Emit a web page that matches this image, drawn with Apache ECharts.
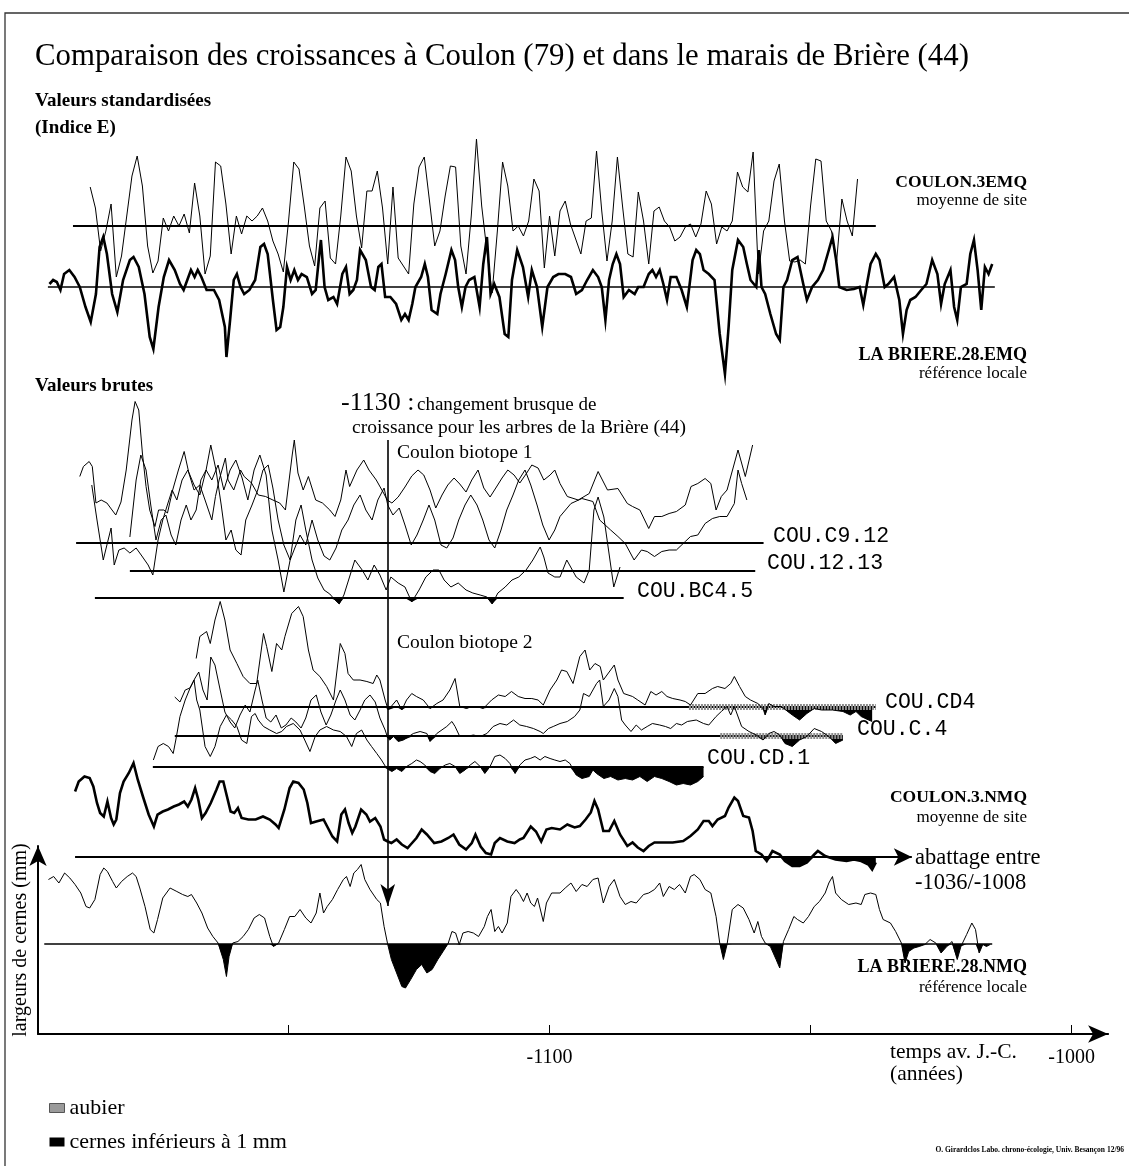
<!DOCTYPE html>
<html><head><meta charset="utf-8">
<script src="https://cdn.jsdelivr.net/npm/echarts@6/dist/echarts.min.js"></script>
<style>html,body{margin:0;padding:0;background:#fff}#c{width:1129px;height:1166px}</style>
</head><body><div id="c"></div>
<script>
// ---------------- DATA ----------------
const yearMin = -1198, yearMax = -993;
const axisTickYears = [-1150, -1100, -1050, -1000];
const axisLabelYears = [-1100, -1000];
const changeYear = -1131;

// Standardised indices (E), [year, index]
const couEMQ = [[-1188,139],[-1187,118],[-1186,75],[-1185,95],[-1184,122],[-1183,49],[-1182,70],[-1181,110],[-1180,150],[-1179,170],[-1178,140],[-1177,80],[-1176,53],[-1175,65],[-1174,108],[-1173,95],[-1172,110],[-1171,100],[-1170,112],[-1169,93],[-1168,143],[-1167,110],[-1166,52],[-1165,70],[-1164,164],[-1163,160],[-1162,122],[-1161,72],[-1160,110],[-1159,92],[-1158,110],[-1157,105],[-1156,110],[-1155,118],[-1154,105],[-1153,85],[-1152,72],[-1151,54],[-1150,105],[-1149,164],[-1148,157],[-1147,120],[-1146,80],[-1145,60],[-1144,118],[-1143,125],[-1142,68],[-1141,62],[-1140,110],[-1139,169],[-1138,155],[-1137,110],[-1136,78],[-1135,135],[-1134,135],[-1133,155],[-1132,118],[-1131,62],[-1130,139],[-1129,68],[-1128,60],[-1127,52],[-1126,122],[-1125,159],[-1124,169],[-1123,125],[-1122,80],[-1121,95],[-1120,130],[-1119,160],[-1118,159],[-1117,80],[-1116,52],[-1115,110],[-1114,187],[-1113,120],[-1112,75],[-1111,33],[-1110,95],[-1109,164],[-1108,140],[-1107,95],[-1106,100],[-1105,90],[-1104,105],[-1103,147],[-1102,135],[-1101,58],[-1100,110],[-1099,70],[-1098,115],[-1097,125],[-1096,102],[-1094,72],[-1093,105],[-1092,108],[-1091,175],[-1090,115],[-1089,65],[-1088,105],[-1087,169],[-1086,119],[-1085,72],[-1084,69],[-1083,134],[-1082,105],[-1081,62],[-1080,115],[-1079,119],[-1078,105],[-1077,99],[-1076,85],[-1075,89],[-1074,99],[-1073,102],[-1072,89],[-1071,102],[-1070,135],[-1069,122],[-1068,82],[-1067,99],[-1066,95],[-1065,105],[-1064,154],[-1063,139],[-1062,134],[-1061,174],[-1060,52],[-1059,95],[-1058,105],[-1057,145],[-1056,162],[-1055,105],[-1054,65],[-1053,64],[-1052,66],[-1051,62],[-1050,120],[-1049,167],[-1048,165],[-1047,105],[-1046,95],[-1045,65],[-1044,127],[-1043,105],[-1042,90],[-1041,147]];

const lbEMQ = [[-1195.8,103],[-1195.1,107],[-1194.4,105],[-1193.7,97],[-1193,113],[-1192,117],[-1191,110],[-1190,100],[-1188.9,80],[-1187.9,65],[-1186.9,93],[-1186.2,140],[-1185.5,150],[-1184.8,133],[-1183.8,93],[-1182.8,75],[-1181.7,107],[-1180.4,127],[-1179.7,130],[-1178.7,120],[-1177.6,93],[-1176.6,50],[-1175.9,38],[-1174.9,80],[-1173.9,110],[-1172.9,127],[-1171.8,117],[-1170.8,103],[-1170.1,97],[-1168.7,117],[-1168,110],[-1167.4,117],[-1166.7,110],[-1165.7,97],[-1164.3,97],[-1163.3,87],[-1162.2,60],[-1161.9,30],[-1161.2,67],[-1160.5,107],[-1159.9,113],[-1159.2,100],[-1158.5,93],[-1157.5,97],[-1156.4,107],[-1155.4,140],[-1154.7,143],[-1154,133],[-1153,87],[-1152.3,57],[-1151.6,60],[-1151,80],[-1150.3,120],[-1149.6,107],[-1148.9,117],[-1148.2,107],[-1147.5,113],[-1146.5,110],[-1145.5,93],[-1144.8,97],[-1144.1,133],[-1143.8,147],[-1143.1,100],[-1142.4,87],[-1141.4,90],[-1140.7,83],[-1139.7,113],[-1139,120],[-1138.3,93],[-1137.6,97],[-1136.9,107],[-1136.3,137],[-1135.2,127],[-1134.2,100],[-1133.5,97],[-1132.8,120],[-1132.2,123],[-1131.5,90],[-1130.5,90],[-1129.4,83],[-1128.4,67],[-1127.7,73],[-1127,67],[-1126.3,83],[-1125.7,100],[-1124.6,110],[-1123.9,123],[-1123.3,110],[-1122.6,77],[-1121.5,73],[-1120.9,93],[-1119.9,113],[-1118.8,137],[-1118.1,127],[-1117.5,100],[-1116.8,80],[-1116.1,100],[-1115.4,107],[-1114.4,110],[-1113.4,80],[-1112.7,123],[-1112,150],[-1111.3,93],[-1110.6,103],[-1109.6,90],[-1108.6,53],[-1107.9,50],[-1107.2,107],[-1106.2,137],[-1105.1,120],[-1104.1,90],[-1103.4,117],[-1102.4,100],[-1101.4,60],[-1100.4,100],[-1099.3,110],[-1098.3,113],[-1097,113],[-1095.9,110],[-1094.9,93],[-1093.8,97],[-1092.8,107],[-1091.7,117],[-1090.7,110],[-1090,100],[-1089.3,67],[-1088.6,107],[-1087.9,123],[-1087.2,133],[-1086.5,123],[-1085.8,90],[-1084.8,97],[-1083.7,93],[-1083,100],[-1082,100],[-1081,113],[-1080.3,117],[-1079.6,110],[-1078.9,117],[-1078.2,103],[-1077.5,87],[-1076.8,110],[-1075.7,110],[-1074.7,97],[-1073.7,80],[-1072.6,127],[-1071.9,137],[-1071.2,133],[-1070.5,117],[-1069.5,113],[-1068.4,107],[-1067.4,53],[-1066.4,13],[-1065.7,60],[-1065,117],[-1063.9,147],[-1062.9,140],[-1062.2,123],[-1061.5,107],[-1060.4,100],[-1059.9,137],[-1059.4,100],[-1058.7,93],[-1057.7,73],[-1056.6,53],[-1055.9,47],[-1055.2,100],[-1054.5,107],[-1053.5,127],[-1052.5,130],[-1051.4,103],[-1050.7,87],[-1049.7,100],[-1048.6,107],[-1047.6,117],[-1046.5,137],[-1045.8,150],[-1045.1,127],[-1044.5,100],[-1043.1,97],[-1041.7,98],[-1040.6,100],[-1039.9,82],[-1039.2,103],[-1038.5,123],[-1037.5,133],[-1036.8,127],[-1035.8,100],[-1035.1,103],[-1034,110],[-1033,87],[-1032.3,53],[-1031.6,77],[-1030.9,87],[-1029.9,90],[-1028.8,97],[-1027.8,103],[-1026.7,127],[-1025.7,113],[-1025,83],[-1024.3,103],[-1023.2,117],[-1022.5,80],[-1021.9,67],[-1021.2,100],[-1020.1,103],[-1019.4,133],[-1018.7,147],[-1018,117],[-1017.3,77],[-1016.6,120],[-1015.9,113],[-1015.2,123]];

// Raw ring widths (mm), [year, mm]
const couC912 = [[-1190,2.33],[-1189.3,2.53],[-1188.2,2.63],[-1187.6,2.53],[-1186.9,1.80],[-1185.9,1.86],[-1184.8,1.80],[-1184.1,1.70],[-1183.1,1.56],[-1182.1,1.82],[-1181.1,2.46],[-1180,3.46],[-1179.4,3.83],[-1178.7,3.66],[-1178,2.80],[-1177.3,2.13],[-1176.6,1.66],[-1175.6,1.33],[-1174.9,1.66],[-1173.9,1.66],[-1173.2,1.60],[-1172.2,2.06],[-1171.1,2.46],[-1170,2.83],[-1169.1,2.40],[-1168.1,2.06],[-1167,2.16],[-1166,1.86],[-1164.7,1.46],[-1164,1.93],[-1163.3,2.26],[-1162.1,2.70],[-1161.6,2.26],[-1160.5,2.06],[-1159.2,2.46],[-1158.5,2.33],[-1157.1,2.20],[-1155.8,1.96],[-1154.4,1.93],[-1153,1.86],[-1151.7,1.80],[-1150.6,1.66],[-1149.3,2.76],[-1148.9,3.06],[-1148.2,2.40],[-1147.2,2.06],[-1146.2,2.33],[-1144.8,1.86],[-1143.5,1.80],[-1142.1,1.66],[-1141.1,1.53],[-1140,1.86],[-1139,2.46],[-1138.3,2.13],[-1136.9,2.46],[-1135.6,2.66],[-1134.6,2.46],[-1133.2,2.26],[-1131.8,2.00],[-1131.1,1.86],[-1130.2,1.80],[-1129,1.92],[-1127.7,2.12],[-1126.4,2.34],[-1125.2,2.46],[-1124.1,2.36],[-1122.9,2.06],[-1121.8,1.70],[-1120.6,1.96],[-1119.5,2.16],[-1118.3,2.30],[-1117.2,2.18],[-1116,2.02],[-1114.9,2.26],[-1113.7,2.46],[-1112.6,2.10],[-1111.4,1.92],[-1110.3,2.10],[-1109.1,2.30],[-1108,2.46],[-1106.8,2.36],[-1105.7,2.20],[-1104.5,2.38],[-1103.4,2.56],[-1102.2,2.50],[-1101.1,2.26],[-1099.9,2.36],[-1099,2.46],[-1098,2.19],[-1096.6,1.93],[-1094.5,1.86],[-1092.4,1.99],[-1090.7,2.43],[-1088.9,2.06],[-1086.9,2.09],[-1085.1,1.79],[-1084.1,1.73],[-1082.7,1.66],[-1081,1.29],[-1079.9,1.53],[-1078.5,1.53],[-1077.1,1.59],[-1075.7,1.63],[-1074,1.76],[-1072.9,2.13],[-1071.6,2.19],[-1070.2,2.29],[-1069.1,2.19],[-1068.1,1.66],[-1067.1,1.93],[-1066,2.06],[-1063.9,2.86],[-1062.5,2.33],[-1061.1,2.96]];

const cou1213 = [[-1180.4,1.68],[-1179.2,2.82],[-1178.3,3.32],[-1177.3,3.02],[-1176.4,2.32],[-1175.4,1.62],[-1174.4,2.02],[-1173.5,2.12],[-1172.5,1.72],[-1171.6,1.52],[-1170.6,2.02],[-1169.6,2.32],[-1168.7,2.02],[-1167.7,2.22],[-1166.8,2.82],[-1165.8,3.02],[-1164.9,3.52],[-1163.9,3.02],[-1162.9,2.32],[-1162,1.62],[-1161,1.82],[-1160.1,1.42],[-1159.1,1.32],[-1158.2,2.02],[-1157,2.32],[-1155.9,2.62],[-1154.9,3.02],[-1153.9,3.12],[-1153,2.66],[-1152,2.02],[-1150.9,1.52],[-1149.7,1.22],[-1148.8,1.46],[-1147.8,1.72],[-1146.7,1.52],[-1145.5,2.02],[-1144.4,1.62],[-1143.2,1.30],[-1142.1,1.22],[-1140.9,1.46],[-1139.8,1.82],[-1138.6,2.02],[-1137.5,2.32],[-1136.3,2.52],[-1135.2,2.22],[-1134,2.02],[-1132.9,2.42],[-1131.7,2.66],[-1131,2.32],[-1130,2.12],[-1128.8,2.26],[-1127.7,1.92],[-1126.5,1.52],[-1125.4,1.72],[-1124.2,2.02],[-1123.1,2.32],[-1122,2.02],[-1120.8,1.52],[-1119.7,1.46],[-1118.5,1.66],[-1117.4,2.02],[-1116.2,2.32],[-1115.1,2.52],[-1113.9,2.32],[-1112.8,2.02],[-1111.6,1.62],[-1110.5,1.46],[-1109.3,1.82],[-1108.2,2.22],[-1107,2.52],[-1105.9,2.82],[-1104.7,3.02],[-1103.6,2.72],[-1102.4,2.32],[-1101.3,1.92],[-1100.1,1.62],[-1099,1.82],[-1098,2.09],[-1095.9,2.35],[-1093.8,2.45],[-1091.7,2.39],[-1090.4,2.02],[-1088.3,1.82],[-1086.9,1.69],[-1085.5,1.55],[-1083.8,1.22],[-1082.4,1.42],[-1081.3,1.39],[-1079.9,1.29],[-1078.5,1.39],[-1077.1,1.42],[-1075.7,1.42],[-1074,1.59],[-1073,1.69],[-1071.6,1.72],[-1070.2,1.95],[-1068.8,2.05],[-1067.4,2.09],[-1066,2.09],[-1064.6,2.35],[-1063.9,3.02],[-1063.2,2.75],[-1062.2,2.42]];

const couBC45 = [[-1187.7,3.26],[-1186.7,2.56],[-1185.5,1.76],[-1184.8,2.06],[-1184,2.4],[-1183.4,1.66],[-1182.5,1.96],[-1181.5,2],[-1180.4,1.9],[-1179.2,2],[-1178.1,1.84],[-1176.9,1.66],[-1176,1.46],[-1175,2.16],[-1174.1,2.56],[-1173.1,2.9],[-1172.3,3.16],[-1171.4,2.96],[-1170.4,3.36],[-1169.3,3.56],[-1168.1,3.26],[-1167,3.06],[-1165.8,3.56],[-1164.7,3.36],[-1163.5,3.66],[-1162.4,3.16],[-1161.2,3.56],[-1160.1,3.76],[-1158.9,3.4],[-1157.8,2.96],[-1156.6,3.56],[-1155.5,3.86],[-1154.3,3.46],[-1153.2,2.36],[-1152,1.76],[-1150.9,1.12],[-1149.7,1.76],[-1148.6,2.56],[-1147.6,2.86],[-1146.7,2.36],[-1145.5,1.76],[-1144.4,1.4],[-1143.2,1.16],[-1142.1,1.08],[-1141.1,0.96],[-1140.3,0.88],[-1139.4,1.06],[-1138.2,1.46],[-1137.3,1.76],[-1135.9,1.56],[-1134.8,1.36],[-1133.6,1.66],[-1132.5,1.46],[-1131.3,1.16],[-1130.4,1.42],[-1129,1.3],[-1127.7,1.22],[-1126.4,0.92],[-1125,1.16],[-1123.7,1.42],[-1122.3,1.56],[-1121.2,1.56],[-1120.2,1.36],[-1118.9,1.22],[-1117.5,1.3],[-1116,1.16],[-1114.7,1.1],[-1113.3,1.06],[-1112,1.02],[-1111,0.88],[-1109.9,1.1],[-1108.5,1.22],[-1107.2,1.36],[-1105.9,1.42],[-1104.5,1.56],[-1103.2,1.76],[-1101.8,2.02],[-1101.1,1.82],[-1100.3,1.5],[-1099,1.42],[-1098,1.42],[-1096.7,1.76],[-1094.9,1.42],[-1093.4,1.3],[-1092.4,1.56],[-1091.5,2.76],[-1090.7,3.02],[-1089.6,2.62],[-1087.7,1.22],[-1086.5,1.62]];

const couCD4 = [[-1167.7,1.97],[-1167,2.41],[-1165.7,2.51],[-1165,2.27],[-1164.1,2.74],[-1163.1,3.11],[-1162.2,2.74],[-1161.2,2.14],[-1159.9,1.87],[-1158.7,1.61],[-1157.4,1.47],[-1156.1,1.47],[-1154.8,2.47],[-1154.2,2.21],[-1153.2,1.71],[-1152.3,2.27],[-1151.3,2.14],[-1150.7,2.41],[-1149.4,2.87],[-1148.1,3.01],[-1147.2,2.81],[-1146.2,2.14],[-1145.3,1.74],[-1144,1.61],[-1142.7,1.41],[-1141.4,1.14],[-1140.1,2.27],[-1139.2,2.07],[-1138.6,1.67],[-1137.6,1.54],[-1136.3,1.54],[-1135,1.51],[-1133.8,1.47],[-1133.1,1.64],[-1132.5,1.54],[-1131.5,1.14],[-1130.9,0.94],[-1129.3,1.14],[-1128.3,0.94],[-1127.4,1.14],[-1126.4,1.27],[-1125.5,1.21],[-1124.2,1.14],[-1122.9,0.97],[-1121.6,1.07],[-1120.4,1.14],[-1119.1,1.34],[-1118.1,1.57],[-1117.2,1.01],[-1115.9,0.97],[-1114.9,1.01],[-1114,1.01],[-1112.7,0.97],[-1111.1,1.14],[-1109.8,1.24],[-1108.5,1.21],[-1107.3,1.31],[-1106,1.21],[-1104.7,1.17],[-1103.4,1.17],[-1102.2,1.14],[-1101.2,1.04],[-1099.9,1.34],[-1098.6,1.54],[-1097.7,1.74],[-1096.7,1.71],[-1095.5,1.47],[-1094.2,2.01],[-1093.2,2.14],[-1092.3,1.74],[-1091.3,1.87],[-1090.3,1.81],[-1089.7,1.54],[-1087.6,1.84],[-1086.9,1.54],[-1085.8,1.27],[-1084.1,1.21],[-1083.1,1.14],[-1081.7,1.04],[-1080.6,1.31],[-1079.6,1.24],[-1078.5,1.31],[-1077.5,1.21],[-1076.4,1.17],[-1075,1.14],[-1074,1.11],[-1073,1.04],[-1071.6,1.27],[-1070.2,1.27],[-1068.8,1.37],[-1067.8,1.41],[-1066.4,1.37],[-1065.3,1.47],[-1064.6,1.61],[-1063.6,1.41],[-1062.5,1.21],[-1061.5,1.14],[-1060.1,1.07],[-1059.1,0.97],[-1058.7,0.84],[-1058,1.07],[-1057,1.01],[-1055.6,1.01],[-1053.5,0.84],[-1052.1,0.74],[-1050.7,0.87],[-1049.3,0.97],[-1047.9,0.94],[-1045.8,0.94],[-1043.8,0.91],[-1042.4,0.84],[-1041.3,0.91],[-1040.3,0.81],[-1038.9,0.74],[-1038.2,0.71]];

const couC4 = [[-1171.8,1.78],[-1170.8,1.68],[-1169.8,1.92],[-1168.9,1.96],[-1167.9,2.16],[-1167.2,2.28],[-1166.4,1.92],[-1165.6,1.72],[-1164.9,2.58],[-1164.1,2.42],[-1163.1,1.92],[-1162.2,1.48],[-1161.2,1.28],[-1160.3,1.16],[-1159.3,1.42],[-1158.3,1.62],[-1157.4,1.48],[-1156.4,1.92],[-1155.9,2.12],[-1155.1,1.72],[-1154.3,1.36],[-1153.4,1.28],[-1152.4,1.42],[-1151.4,1.16],[-1150.5,1.22],[-1149.5,1.36],[-1148.6,1.28],[-1147.6,1.16],[-1146.7,1.36],[-1145.7,1.72],[-1144.7,1.82],[-1143.8,1.48],[-1142.8,1.22],[-1141.9,1.42],[-1140.9,1.72],[-1140.1,1.92],[-1139.2,1.72],[-1138.2,1.42],[-1137.3,1.32],[-1136.3,1.52],[-1135.4,1.72],[-1134.4,1.82],[-1133.4,1.68],[-1132.5,1.36],[-1131.5,1.12],[-1131,0.96],[-1130.6,0.92],[-1129.9,0.99],[-1129,0.89],[-1128,0.92],[-1126.1,1.05],[-1124.8,1.09],[-1123.5,1.05],[-1122.9,0.89],[-1121.6,1.05],[-1119.7,1.19],[-1118.7,1.29],[-1118.1,1.19],[-1117.2,0.99],[-1115.9,0.99],[-1114.6,1.02],[-1113.3,0.99],[-1112,1.05],[-1110.8,1.19],[-1109.5,1.25],[-1108.2,1.22],[-1106.9,1.32],[-1105.7,1.22],[-1104.4,1.19],[-1103.1,1.15],[-1101.8,1.09],[-1101.2,1.05],[-1100.2,1.15],[-1099.3,1.19],[-1098,1.25],[-1096.6,1.29],[-1095.2,1.39],[-1094.2,1.52],[-1093.5,1.85],[-1092.4,1.79],[-1091,2.05],[-1090.4,2.12],[-1089.7,1.59],[-1088.6,1.72],[-1087.6,1.95],[-1086.9,1.79],[-1086.2,1.32],[-1085.5,1.22],[-1084.4,1.09],[-1083.4,1.22],[-1082.4,1.12],[-1081.3,1.19],[-1080.3,1.25],[-1078.9,1.22],[-1077.8,1.19],[-1076.8,1.15],[-1075.7,1.25],[-1074.7,1.22],[-1073.6,1.29],[-1071.9,1.32],[-1070.5,1.25],[-1069.5,1.22],[-1068.1,1.39],[-1067.1,1.49],[-1066,1.59],[-1065.3,1.42],[-1064.6,1.59],[-1063.2,1.19],[-1061.8,1.09],[-1060.4,1.02],[-1059.1,0.92],[-1058,1.05],[-1057,1.09],[-1055.9,1.02],[-1054.9,0.85],[-1053.5,0.79],[-1052.1,0.92],[-1050.7,0.99],[-1049.3,1.15],[-1047.9,1.09],[-1046.5,0.99],[-1045.2,0.85],[-1043.8,0.92]];

const couCD1 = [[-1175.9,1.14],[-1175,1.41],[-1174,1.47],[-1173,1.41],[-1172.1,1.27],[-1171.6,1.54],[-1170.8,2.01],[-1169.8,2.34],[-1168.9,2.57],[-1168.1,2.74],[-1167.6,2.34],[-1167,2.14],[-1166,1.41],[-1165,1.21],[-1164.1,1.41],[-1163.1,1.81],[-1161.9,2.04],[-1160.9,1.94],[-1159.9,1.81],[-1159,1.54],[-1158,1.47],[-1157.1,2.01],[-1156.4,2.07],[-1155.8,1.94],[-1154.8,1.81],[-1153.6,1.74],[-1152.3,1.67],[-1151.3,1.71],[-1150.4,1.81],[-1149.1,1.87],[-1147.8,1.74],[-1146.9,1.54],[-1145.9,1.31],[-1144.9,1.61],[-1144,1.74],[-1142.7,1.81],[-1141.4,1.74],[-1140.1,1.71],[-1138.9,1.61],[-1137.9,1.41],[-1137,1.67],[-1136,1.74],[-1135,1.54],[-1134.1,1.41],[-1133.1,1.27],[-1132.2,1.14],[-1131.2,0.97],[-1130.2,0.91],[-1129.3,0.97],[-1128.3,0.91],[-1127.4,1.01],[-1126.4,1.07],[-1125.5,1.14],[-1124.8,1.11],[-1123.9,1.04],[-1122.9,0.91],[-1122,0.87],[-1121,0.97],[-1120,1.04],[-1119.1,1.07],[-1118.1,1.01],[-1117.2,0.87],[-1116.2,0.94],[-1115.2,1.04],[-1114.3,1.11],[-1113.3,1.01],[-1112.4,0.87],[-1111.4,1.01],[-1110.5,1.21],[-1109.5,1.24],[-1108.5,1.17],[-1107.6,1.07],[-1106.6,0.87],[-1105.7,1.04],[-1104.7,1.14],[-1103.7,1.17],[-1102.8,1.21],[-1101.8,1.14],[-1100.9,1.21],[-1099.9,1.17],[-1099,1.14],[-1098,1.11],[-1097,1.14],[-1096.1,1.07],[-1094.9,0.84],[-1093.8,0.77],[-1092.4,0.81],[-1091.7,0.94],[-1091,0.87],[-1089.6,0.77],[-1088.3,0.81],[-1086.9,0.74],[-1085.5,0.77],[-1084.1,0.74],[-1082.7,0.81],[-1081.3,0.71],[-1079.9,0.81],[-1078.5,0.77],[-1077.1,0.71],[-1075.7,0.64],[-1074.4,0.67],[-1073,0.64],[-1071.6,0.71],[-1070.5,0.81]];

const coulonNMQ = [[-1190.9,2.31],[-1190.2,2.51],[-1189.1,2.61],[-1188.1,2.58],[-1187.4,2.41],[-1186.7,2.08],[-1186.1,1.88],[-1185.4,1.81],[-1184.7,2.11],[-1184,1.78],[-1183.5,1.65],[-1183,1.75],[-1182.3,2.28],[-1181.6,2.51],[-1180.6,2.68],[-1179.7,2.88],[-1178.9,2.55],[-1177.9,2.21],[-1176.8,1.85],[-1175.8,1.61],[-1175.1,1.85],[-1174.1,1.91],[-1173.1,1.95],[-1172,2.01],[-1171,2.05],[-1170,2.11],[-1169.3,2.01],[-1168.6,2.15],[-1167.9,2.38],[-1167.3,2.15],[-1166.6,1.78],[-1165.9,1.88],[-1164.9,2.08],[-1163.8,2.35],[-1163.2,2.51],[-1162.5,2.51],[-1161.8,2.21],[-1161.1,1.91],[-1160.4,1.88],[-1159.7,1.98],[-1159,1.78],[-1157.7,1.75],[-1156.3,1.75],[-1154.9,1.81],[-1153.6,1.75],[-1152.5,1.65],[-1151.9,1.58],[-1150.8,1.95],[-1149.8,2.38],[-1149.1,2.51],[-1148.1,2.48],[-1147.1,2.35],[-1146.4,2.08],[-1145.7,1.68],[-1144.7,1.71],[-1143.3,1.75],[-1142.6,1.61],[-1141.6,1.41],[-1140.7,1.31],[-1139.9,1.85],[-1139.2,1.95],[-1138.5,1.68],[-1137.8,1.48],[-1137.2,1.61],[-1136.1,1.95],[-1135.1,1.85],[-1134.4,1.71],[-1133.4,1.78],[-1132.4,1.61],[-1131.7,1.35],[-1131,1.31],[-1130.3,1.28],[-1129.3,1.35],[-1128.3,1.25],[-1127.2,1.18],[-1126.6,1.25],[-1125.5,1.38],[-1124.5,1.55],[-1123.5,1.45],[-1122.1,1.28],[-1120.7,1.31],[-1119.4,1.38],[-1118.4,1.45],[-1117.3,1.25],[-1116,1.15],[-1114.9,1.28],[-1114.2,1.45],[-1113.2,1.21],[-1112.2,1.08],[-1111.2,1.05],[-1110.5,1.28],[-1109.5,1.38],[-1108.1,1.31],[-1106.7,1.28],[-1105.7,1.35],[-1105,1.38],[-1103.6,1.61],[-1102.6,1.51],[-1101.6,1.31],[-1100.6,1.55],[-1099.6,1.58],[-1098,1.55],[-1096.6,1.65],[-1095.2,1.59],[-1094.2,1.62],[-1093.1,1.75],[-1092.1,1.89],[-1091.4,2.12],[-1090.7,1.95],[-1089.7,1.52],[-1088.6,1.52],[-1087.6,1.72],[-1086.5,1.45],[-1085.1,1.22],[-1084.1,1.29],[-1083.1,1.19],[-1082,1.12],[-1081,1.22],[-1079.9,1.29],[-1078.2,1.29],[-1076.4,1.29],[-1074.4,1.32],[-1073,1.42],[-1071.6,1.55],[-1070.5,1.72],[-1069.5,1.72],[-1068.8,1.62],[-1067.8,1.75],[-1066.4,1.82],[-1065.7,1.99],[-1064.6,2.19],[-1063.9,2.12],[-1062.9,1.82],[-1061.8,1.79],[-1061.1,1.52],[-1060.5,1.12],[-1059.4,1.05],[-1058.4,0.92],[-1057.3,1.12],[-1055.9,1.05],[-1054.9,0.92],[-1053.5,0.82],[-1052.1,0.82],[-1050.7,0.89],[-1049.3,1.05],[-1048.6,1.12],[-1047.2,1.02],[-1045.2,0.95],[-1043.1,0.92],[-1041.7,0.95],[-1040.3,0.92],[-1038.9,0.85],[-1038.2,0.75],[-1037.5,0.89]];

const briereNMQ = [[-1196,2.29],[-1195,2.35],[-1194,2.22],[-1192.9,2.42],[-1191.9,2.32],[-1190.9,2.19],[-1189.8,2.02],[-1188.8,1.75],[-1188.1,1.72],[-1187.1,1.89],[-1186.1,2.39],[-1185.4,2.52],[-1184.7,2.45],[-1183.7,2.25],[-1183,2.12],[-1182,2.25],[-1180.9,2.35],[-1179.9,2.42],[-1179.2,2.35],[-1178.5,2.12],[-1177.5,1.75],[-1176.5,1.29],[-1175.8,1.22],[-1175.1,1.49],[-1174.1,1.92],[-1172.7,2.12],[-1171.4,2.05],[-1170.3,1.99],[-1169.3,1.95],[-1168.6,1.99],[-1167.6,1.82],[-1166.6,1.62],[-1165.5,1.32],[-1164.5,1.15],[-1163.5,1.02],[-1162.5,0.69],[-1161.9,0.35],[-1161.4,0.75],[-1160.7,1.02],[-1159.7,1.05],[-1158.7,1.15],[-1157.7,1.29],[-1156.6,1.52],[-1155.6,1.59],[-1154.6,1.52],[-1153.6,1.15],[-1152.9,0.95],[-1151.9,1.02],[-1150.8,1.29],[-1149.8,1.55],[-1148.8,1.55],[-1147.8,1.69],[-1146.7,1.52],[-1145.7,1.42],[-1144.7,1.62],[-1144,2.02],[-1143.3,1.62],[-1142.6,1.75],[-1141.6,1.89],[-1140.6,2.09],[-1139.5,2.29],[-1138.9,2.35],[-1138.2,2.15],[-1137.5,2.42],[-1136.8,2.49],[-1136.1,2.59],[-1135.4,2.29],[-1134.4,2.09],[-1133.1,1.89],[-1132.4,1.82],[-1131.7,1.35],[-1131,0.99],[-1130.3,0.69],[-1129.3,0.42],[-1128.3,0.15],[-1127.6,0.12],[-1126.6,0.29],[-1125.5,0.49],[-1124.5,0.59],[-1123.5,0.42],[-1122.5,0.49],[-1121.4,0.69],[-1120.4,0.85],[-1119.4,1.02],[-1118.7,1.25],[-1118,1.22],[-1117.3,0.99],[-1116.6,1.22],[-1115.6,1.25],[-1114.6,1.22],[-1113.6,1.15],[-1112.5,1.35],[-1111.9,1.55],[-1111.2,1.69],[-1110.5,1.25],[-1109.8,1.35],[-1109.1,1.22],[-1108.1,1.42],[-1107.4,1.95],[-1106.4,2.09],[-1105.7,1.99],[-1105,1.85],[-1104.3,2.02],[-1103.6,1.82],[-1102.9,1.75],[-1102.3,1.92],[-1101.2,1.45],[-1100.6,1.82],[-1099.6,2.02],[-1098,2.02],[-1097,2.12],[-1095.9,2.22],[-1094.9,2.05],[-1093.8,2.19],[-1092.8,2.15],[-1091.7,2.29],[-1090.7,2.32],[-1089.7,1.82],[-1088.6,2.15],[-1087.6,2.29],[-1086.5,1.95],[-1085.5,1.79],[-1084.4,1.85],[-1083.4,1.82],[-1082,1.99],[-1081,2.02],[-1079.9,2.09],[-1078.9,2.22],[-1078.2,1.95],[-1077.1,2.15],[-1076.1,2.09],[-1075.1,2.19],[-1074,2.02],[-1073,2.35],[-1072.3,2.39],[-1071.2,2.29],[-1070.2,2.09],[-1069.1,2.02],[-1068.1,1.55],[-1067.4,1.02],[-1066.7,0.69],[-1066,0.99],[-1065,1.69],[-1063.9,1.79],[-1062.9,1.72],[-1061.8,1.49],[-1060.8,1.22],[-1060.1,1.45],[-1059.4,1.15],[-1058.7,1.02],[-1057.7,0.95],[-1056.6,0.69],[-1055.9,0.52],[-1055.2,1.05],[-1054.2,1.29],[-1053.2,1.55],[-1052.5,1.49],[-1051.4,1.42],[-1050.4,1.55],[-1049.3,1.75],[-1048.3,1.85],[-1047.2,2.02],[-1046.5,2.22],[-1045.8,2.35],[-1045.2,2.02],[-1044.1,1.89],[-1042.7,1.79],[-1041.3,1.82],[-1040.3,1.79],[-1039.6,1.99],[-1038.5,2.02],[-1037.5,1.99],[-1036.8,1.69],[-1036.1,1.49],[-1034.7,1.42],[-1033.7,1.25],[-1032.6,1.02],[-1031.9,0.62],[-1031.2,0.85],[-1030.2,0.92],[-1029.2,0.95],[-1028.1,0.99],[-1027.1,1.09],[-1026,1.02],[-1025,0.82],[-1023.9,0.95],[-1022.9,1.05],[-1021.9,0.69],[-1021.2,0.95],[-1020.1,1.19],[-1019.1,1.42],[-1018.4,1.29],[-1017.7,0.82],[-1017,0.99],[-1016.3,0.95],[-1015.6,0.99]];

// Reference-line spans [first year, last year] and sapwood (aubier) spans
const spanCouEMQ = [-1191.3, -1037.5];
const spanLbEMQ = [-1196.1, -1014.7];
const spanC912 = [-1190.7, -1059];
const span1213 = [-1180.4, -1060.6];
const spanBC45 = [-1187.1, -1085.8];
const spanCD4 = [-1167, -1037.5];
const spanC4 = [-1171.8, -1043.8];
const spanCD1 = [-1176, -1070.5];
const spanCoulonNMQ = [-1190.9, -1030.6];
const spanBriereNMQ = [-1196.8, -1015.2];
const aubierCD4 = [-1073.3, -1037.5];
const aubierC4 = [-1067.3, -1043.8];

// ---------------- LAYOUT / RENDER ----------------
const SERIF = "'Liberation Serif','Times New Roman',serif";
const MONO = "'Liberation Mono','Courier New',monospace";
const PX_PER_YEAR = 5.22;
const LEFT = 38;
const WIDTH = (yearMax - yearMin) * PX_PER_YEAR;

const tracks = [
  {data: couEMQ, span: spanCouEMQ, base: 100, basePx: 226, unit: 1, lo: 0, hi: 200, lw: 1, bw: 2.2, fill: false},
  {data: lbEMQ, span: spanLbEMQ, base: 100, basePx: 287, unit: 1, lo: 0, hi: 200, lw: 2.6, bw: 1.5, fill: false},
  {data: couC912, span: spanC912, base: 1, basePx: 543, unit: 50, lo: 0, hi: 5, lw: 1, bw: 2, fill: true},
  {data: cou1213, span: span1213, base: 1, basePx: 571, unit: 50, lo: 0, hi: 5, lw: 1, bw: 2, fill: true},
  {data: couBC45, span: spanBC45, base: 1, basePx: 598, unit: 50, lo: 0, hi: 5, lw: 1, bw: 2, fill: true},
  {data: couCD4, span: spanCD4, base: 1, basePx: 707, unit: 50, lo: 0, hi: 5, lw: 1, bw: 2, fill: true, aubier: aubierCD4},
  {data: couC4, span: spanC4, base: 1, basePx: 736, unit: 50, lo: 0, hi: 5, lw: 1, bw: 2, fill: true, aubier: aubierC4},
  {data: couCD1, span: spanCD1, base: 1, basePx: 767, unit: 50, lo: 0, hi: 5, lw: 1, bw: 2, fill: true},
  {data: coulonNMQ, span: spanCoulonNMQ, base: 1, basePx: 857, unit: 50, lo: 0, hi: 5, lw: 2.6, bw: 2, fill: true, arrow: true},
  {data: briereNMQ, span: spanBriereNMQ, base: 1, basePx: 944, unit: 50, lo: 0, hi: 5, lw: 1, bw: 1.6, fill: true}
];

const grids = [], xAxes = [], yAxes = [], series = [];
tracks.forEach((t, i) => {
  grids.push({left: LEFT, width: WIDTH, top: t.basePx - t.unit * (t.hi - t.base), height: t.unit * (t.hi - t.lo)});
  xAxes.push({gridIndex: i, type: 'value', min: yearMin, max: yearMax, show: false});
  yAxes.push({gridIndex: i, type: 'value', min: t.lo, max: t.hi, show: false});
  if (t.fill) {
    series.push({
      name: 'cernes inférieurs à 1 mm', type: 'line', xAxisIndex: i, yAxisIndex: i,
      data: t.data.map(d => [d[0], Math.min(d[1], t.base)]),
      showSymbol: false, symbol: 'none', lineStyle: {width: 0, opacity: 0},
      itemStyle: {color: '#000'},
      areaStyle: {color: '#000', opacity: 1, origin: t.base}, z: 1, silent: true
    });
  }
  const baseSeries = {
    type: 'line', xAxisIndex: i, yAxisIndex: i,
    data: t.arrow ? [] : [[t.span[0], t.base], [t.span[1], t.base]],
    showSymbol: false, symbol: 'none', lineStyle: {color: '#000', width: t.bw}, z: 2, silent: true
  };
  if (t.arrow) {
    baseSeries.markLine = {
      silent: true, animation: false, symbol: ['none', 'arrow'], symbolSize: [13, 18],
      label: {show: false}, lineStyle: {color: '#000', width: t.bw, type: 'solid'},
      emphasis: {disabled: true},
      data: [[{coord: [t.span[0], t.base]}, {coord: [t.span[1], t.base]}]]
    };
  }
  series.push(baseSeries);
  if (t.aubier) {
    series.push({
      name: 'aubier', type: 'line', xAxisIndex: i, yAxisIndex: i,
      data: [[t.aubier[0], t.base], [t.aubier[1], t.base]],
      showSymbol: false, symbol: 'none', itemStyle: {color: '#9a9a9a'},
      lineStyle: {color: '#8c8c8c', width: 6, type: [2, 1]}, z: 3, silent: true
    });
  }
  series.push({
    type: 'line', xAxisIndex: i, yAxisIndex: i, data: t.data,
    showSymbol: false, symbol: 'none', lineStyle: {color: '#000', width: t.lw, join: 'miter'}, z: 4, silent: true
  });
});

// overlay grid for the -1130 arrow
const oi = grids.length;
grids.push({left: LEFT, width: WIDTH, top: 440, height: 466});
xAxes.push({gridIndex: oi, type: 'value', min: yearMin, max: yearMax, show: false});
yAxes.push({gridIndex: oi, type: 'value', min: 0, max: 1, show: false});
series.push({
  type: 'line', xAxisIndex: oi, yAxisIndex: oi, data: [], silent: true,
  markLine: {
    silent: true, animation: false, symbol: ['none', 'arrow'], symbolSize: [11, 22],
    label: {show: false}, lineStyle: {color: '#000', width: 1.6, type: 'solid'}, emphasis: {disabled: true},
    data: [[{coord: [changeYear, 1]}, {coord: [changeYear, 0]}]]
  }
});

// time axis grid
const ai = grids.length;
grids.push({left: LEFT, width: WIDTH, top: 846, height: 188});
xAxes.push({
  gridIndex: ai, type: 'value', min: yearMin, max: yearMax,
  axisLine: {show: true, symbol: ['none', 'arrow'], symbolSize: [13, 20], lineStyle: {color: '#000', width: 2}},
  axisTick: {show: true, inside: true, length: 9, customValues: axisTickYears, lineStyle: {color: '#000', width: 1}},
  axisLabel: {show: true, customValues: axisLabelYears, formatter: v => String(v), margin: 14,
    color: '#000', fontFamily: SERIF, fontSize: 20},
  splitLine: {show: false}
});
yAxes.push({
  gridIndex: ai, type: 'value', min: 0, max: 1,
  axisLine: {show: true, symbol: ['none', 'arrow'], symbolSize: [13, 20], lineStyle: {color: '#000', width: 2}},
  axisTick: {show: false}, axisLabel: {show: false}, splitLine: {show: false},
  name: 'largeurs de cernes (mm)', nameLocation: 'middle', nameGap: 7, nameRotate: 90,
  nameTextStyle: {color: '#000', fontFamily: SERIF, fontSize: 20}
});
series.push({type: 'line', xAxisIndex: ai, yAxisIndex: ai, data: [], silent: true});

function txt(x, y, text, size, opts) {
  opts = opts || {};
  return {type: 'text', x: x, y: y, silent: true, style: {
    text: text, fontSize: size, fontFamily: opts.family || SERIF, fontWeight: opts.bold ? 'bold' : 'normal',
    fill: '#000', align: opts.align || 'left', verticalAlign: 'middle'}};
}

const graphics = [
  {type: 'polyline', silent: true, shape: {points: [[5, 1166], [5, 13], [1129, 13]]}, style: {stroke: '#333', lineWidth: 1.3, fill: null}},
  txt(35, 57, 'Comparaison des croissances à Coulon (79) et dans le marais de Brière (44)', 30.8),
  txt(35, 101, 'Valeurs standardisées', 19, {bold: true}),
  txt(35, 128, '(Indice E)', 19, {bold: true}),
  txt(1027, 182, 'COULON.3EMQ', 17.5, {bold: true, align: 'right'}),
  txt(1027, 201, 'moyenne de site', 17, {align: 'right'}),
  txt(1027, 355, 'LA BRIERE.28.EMQ', 18, {bold: true, align: 'right'}),
  txt(1027, 374, 'référence locale', 17, {align: 'right'}),
  txt(35, 386, 'Valeurs brutes', 19, {bold: true}),
  txt(341, 403, '-1130 :', 26),
  txt(417, 405, 'changement brusque de', 19),
  txt(352, 428, 'croissance pour les arbres de la Brière (44)', 19.5),
  txt(397, 453, 'Coulon biotope 1', 19.5),
  txt(773, 536, 'COU.C9.12', 21.5, {family: MONO}),
  txt(767, 563, 'COU.12.13', 21.5, {family: MONO}),
  txt(637, 591, 'COU.BC4.5', 21.5, {family: MONO}),
  txt(397, 643, 'Coulon biotope 2', 19.5),
  txt(885, 702, 'COU.CD4', 21.5, {family: MONO}),
  txt(857, 729, 'COU.C.4', 21.5, {family: MONO}),
  txt(707, 758, 'COU.CD.1', 21.5, {family: MONO}),
  txt(1027, 797, 'COULON.3.NMQ', 17.5, {bold: true, align: 'right'}),
  txt(1027, 818, 'moyenne de site', 17, {align: 'right'}),
  txt(915, 858, 'abattage entre', 22.5),
  txt(915, 883, '-1036/-1008', 22.5),
  txt(1027, 967, 'LA BRIERE.28.NMQ', 18, {bold: true, align: 'right'}),
  txt(1027, 988, 'référence locale', 17, {align: 'right'}),
  txt(890, 1052, 'temps av. J.-C.', 21.5),
  txt(890, 1074, '(années)', 21.5),
  txt(1124, 1150, 'O. Girardclos Labo. chrono-écologie, Univ. Besançon 12/96', 7.5, {bold: true, align: 'right'})
];

const chart = echarts.init(document.getElementById('c'), null, {renderer: 'canvas'});
chart.setOption({
  animation: false,
  backgroundColor: '#fff',
  grid: grids, xAxis: xAxes, yAxis: yAxes, series: series,
  legend: {
    orient: 'vertical', left: 44, top: 1092, itemWidth: 15, itemHeight: 9, itemGap: 12,
    selectedMode: false,
    textStyle: {color: '#000', fontFamily: SERIF, fontSize: 22},
    data: [
      {name: 'aubier', icon: 'rect', itemStyle: {color: '#9a9a9a', borderColor: '#555', borderWidth: 1}},
      {name: 'cernes inférieurs à 1 mm', icon: 'rect', itemStyle: {color: '#000'}}
    ]
  },
  graphic: graphics
});
</script></body></html>
